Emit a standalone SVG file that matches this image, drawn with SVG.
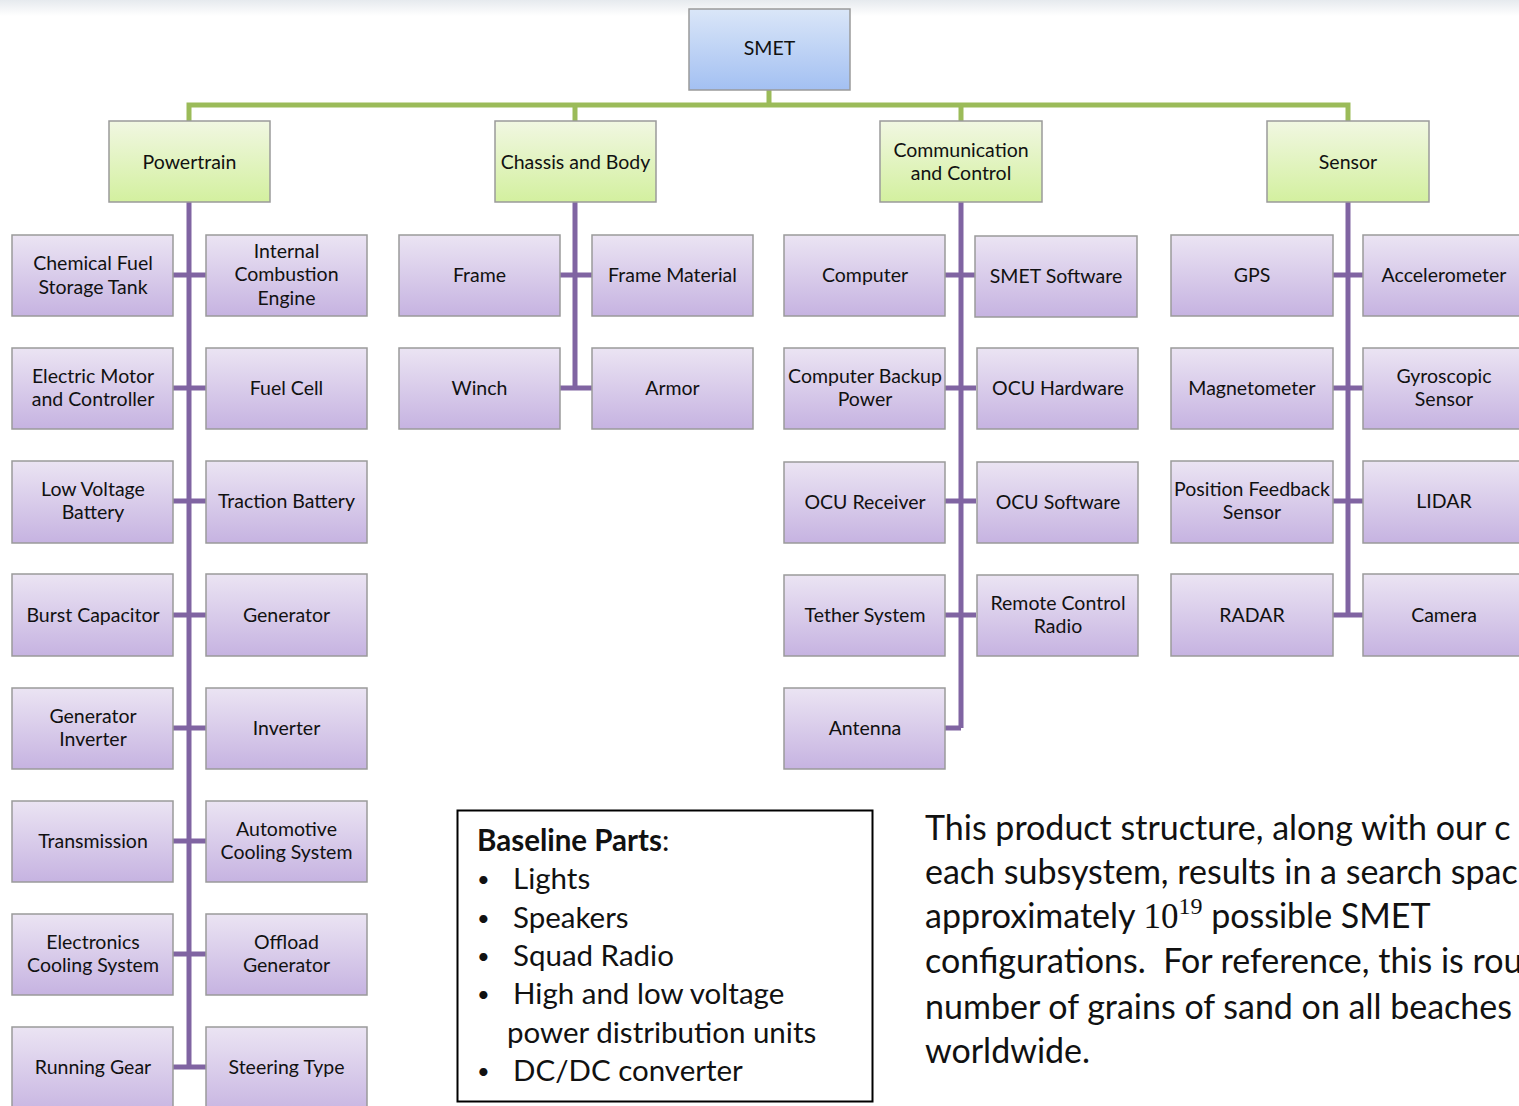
<svg xmlns="http://www.w3.org/2000/svg" width="1519" height="1106" viewBox="0 0 1519 1106">
<defs>
<linearGradient id="gBlue" x1="0" y1="0" x2="0" y2="1"><stop offset="0" stop-color="#dae6f8"/><stop offset="1" stop-color="#a3c0f2"/></linearGradient>
<linearGradient id="gGreen" x1="0" y1="0" x2="0" y2="1"><stop offset="0" stop-color="#f1f7e2"/><stop offset="1" stop-color="#d3f09f"/></linearGradient>
<linearGradient id="gPurple" x1="0" y1="0" x2="0" y2="1"><stop offset="0" stop-color="#ebe4f3"/><stop offset="1" stop-color="#c6b3e1"/></linearGradient>
<linearGradient id="gTop" x1="0" y1="0" x2="0" y2="1"><stop offset="0" stop-color="#e6eaee"/><stop offset="1" stop-color="#ffffff"/></linearGradient>
<style>
.b{stroke:#9a9a9a;stroke-width:1.5}
.blue{fill:url(#gBlue)}
.green{fill:url(#gGreen)}
.pur{fill:url(#gPurple)}
text{font-family:Lato,"Open Sans","Liberation Sans",sans-serif;fill:#111}
.t{font-size:19.5px;text-anchor:middle}
.gl{fill:none;stroke:#9bbb59;stroke-width:5}
.pl{fill:none;stroke:#8064a2;stroke-width:5}
.big{font-size:29.5px}
.bul{font-size:22px}
.par{font-size:34px}
</style>
</defs>
<rect x="0" y="0" width="1519" height="1106" fill="#ffffff"/>
<rect x="0" y="0" width="1519" height="16" fill="url(#gTop)"/>

<g id="connectors">
<path class="gl" d="M769 90V105M189 121V105H1348V121M575 105V121M961 105V121"/>
<path class="pl" d="M189 202V1067M173 275H206M173 388H206M173 501H206M173 615H206M173 728H206M173 841H206M173 954H206M173 1067H206"/>
<path class="pl" d="M575 202V388M560 275H592M560 388H592"/>
<path class="pl" d="M961 202V728M945 275H976M945 388H976M945 501H976M945 615H976M945 728H961"/>
<path class="pl" d="M1348 202V615M1333 275H1363M1333 388H1363M1333 501H1363M1333 615H1363"/>
</g>

<g id="smet"><rect class="b blue" x="689" y="9" width="161" height="81"/><text class="t" x="769.5" y="55">SMET</text></g>

<g id="powertrain"><rect class="b green" x="109" y="121" width="161" height="81"/><text class="t" x="189.5" y="169">Powertrain</text></g>
<g id="chassis"><rect class="b green" x="495" y="121" width="161" height="81"/><text class="t" x="575.5" y="169">Chassis and Body</text></g>
<g id="comm"><rect class="b green" x="880" y="121" width="162" height="81"/><text class="t" x="961" y="157">Communication</text><text class="t" x="961" y="180">and Control</text></g>
<g id="sensor"><rect class="b green" x="1267" y="121" width="162" height="81"/><text class="t" x="1348" y="169">Sensor</text></g>

<!-- Powertrain children -->
<g id="chem"><rect class="b pur" x="12" y="235" width="161" height="81"/><text class="t" x="93" y="270">Chemical Fuel</text><text class="t" x="93" y="294">Storage Tank</text></g>
<g id="ice"><rect class="b pur" x="206" y="235" width="161" height="81"/><text class="t" x="286.5" y="258">Internal</text><text class="t" x="286.5" y="281">Combustion</text><text class="t" x="286.5" y="305">Engine</text></g>
<g id="emotor"><rect class="b pur" x="12" y="348" width="161" height="81"/><text class="t" x="93" y="383">Electric Motor</text><text class="t" x="93" y="406">and Controller</text></g>
<g id="fuelcell"><rect class="b pur" x="206" y="348" width="161" height="81"/><text class="t" x="286.5" y="395">Fuel Cell</text></g>
<g id="lvbat"><rect class="b pur" x="12" y="461" width="161" height="82"/><text class="t" x="93" y="496">Low Voltage</text><text class="t" x="93" y="519">Battery</text></g>
<g id="tracbat"><rect class="b pur" x="206" y="461" width="161" height="82"/><text class="t" x="286.5" y="508">Traction Battery</text></g>
<g id="burst"><rect class="b pur" x="12" y="574" width="161" height="82"/><text class="t" x="93" y="622">Burst Capacitor</text></g>
<g id="gen"><rect class="b pur" x="206" y="574" width="161" height="82"/><text class="t" x="286.5" y="622">Generator</text></g>
<g id="geninv"><rect class="b pur" x="12" y="688" width="161" height="81"/><text class="t" x="93" y="723">Generator</text><text class="t" x="93" y="746">Inverter</text></g>
<g id="inv"><rect class="b pur" x="206" y="688" width="161" height="81"/><text class="t" x="286.5" y="735">Inverter</text></g>
<g id="trans"><rect class="b pur" x="12" y="801" width="161" height="81"/><text class="t" x="93" y="848">Transmission</text></g>
<g id="autocool"><rect class="b pur" x="206" y="801" width="161" height="81"/><text class="t" x="286.5" y="836">Automotive</text><text class="t" x="286.5" y="859">Cooling System</text></g>
<g id="eleccool"><rect class="b pur" x="12" y="914" width="161" height="81"/><text class="t" x="93" y="949">Electronics</text><text class="t" x="93" y="972">Cooling System</text></g>
<g id="offload"><rect class="b pur" x="206" y="914" width="161" height="81"/><text class="t" x="286.5" y="949">Offload</text><text class="t" x="286.5" y="972">Generator</text></g>
<g id="running"><rect class="b pur" x="12" y="1027" width="161" height="90"/><text class="t" x="93" y="1074">Running Gear</text></g>
<g id="steering"><rect class="b pur" x="206" y="1027" width="161" height="90"/><text class="t" x="286.5" y="1074">Steering Type</text></g>

<!-- Chassis children -->
<g id="frame"><rect class="b pur" x="399" y="235" width="161" height="81"/><text class="t" x="479.5" y="282">Frame</text></g>
<g id="framemat"><rect class="b pur" x="592" y="235" width="161" height="81"/><text class="t" x="672.5" y="282">Frame Material</text></g>
<g id="winch"><rect class="b pur" x="399" y="348" width="161" height="81"/><text class="t" x="479.5" y="395">Winch</text></g>
<g id="armor"><rect class="b pur" x="592" y="348" width="161" height="81"/><text class="t" x="672.5" y="395">Armor</text></g>

<!-- Comm children -->
<g id="computer"><rect class="b pur" x="784" y="235" width="161" height="81"/><text class="t" x="865" y="282">Computer</text></g>
<g id="smetsw"><rect class="b pur" x="975" y="236" width="162" height="81"/><text class="t" x="1056" y="283">SMET Software</text></g>
<g id="compbackup"><rect class="b pur" x="784" y="348" width="161" height="81"/><text class="t" x="865" y="383">Computer Backup</text><text class="t" x="865" y="406">Power</text></g>
<g id="ocuhw"><rect class="b pur" x="977" y="348" width="161" height="81"/><text class="t" x="1058" y="395">OCU Hardware</text></g>
<g id="ocurx"><rect class="b pur" x="784" y="462" width="161" height="81"/><text class="t" x="865" y="509">OCU Receiver</text></g>
<g id="ocusw"><rect class="b pur" x="977" y="462" width="161" height="81"/><text class="t" x="1058" y="509">OCU Software</text></g>
<g id="tether"><rect class="b pur" x="784" y="575" width="161" height="81"/><text class="t" x="865" y="622">Tether System</text></g>
<g id="rcradio"><rect class="b pur" x="977" y="575" width="161" height="81"/><text class="t" x="1058" y="610">Remote Control</text><text class="t" x="1058" y="633">Radio</text></g>
<g id="antenna"><rect class="b pur" x="784" y="688" width="161" height="81"/><text class="t" x="865" y="735">Antenna</text></g>

<!-- Sensor children -->
<g id="gps"><rect class="b pur" x="1171" y="235" width="162" height="81"/><text class="t" x="1252" y="282">GPS</text></g>
<g id="accel"><rect class="b pur" x="1363" y="235" width="162" height="81"/><text class="t" x="1444" y="282">Accelerometer</text></g>
<g id="magneto"><rect class="b pur" x="1171" y="348" width="162" height="81"/><text class="t" x="1252" y="395">Magnetometer</text></g>
<g id="gyro"><rect class="b pur" x="1363" y="348" width="162" height="81"/><text class="t" x="1444" y="383">Gyroscopic</text><text class="t" x="1444" y="406">Sensor</text></g>
<g id="posfb"><rect class="b pur" x="1171" y="461" width="162" height="82"/><text class="t" x="1252" y="496">Position Feedback</text><text class="t" x="1252" y="519">Sensor</text></g>
<g id="lidar"><rect class="b pur" x="1363" y="461" width="162" height="82"/><text class="t" x="1444" y="508">LIDAR</text></g>
<g id="radar"><rect class="b pur" x="1171" y="574" width="162" height="82"/><text class="t" x="1252" y="622">RADAR</text></g>
<g id="camera"><rect class="b pur" x="1363" y="574" width="162" height="82"/><text class="t" x="1444" y="622">Camera</text></g>

<!-- Baseline parts box -->
<g id="baseline">
<rect x="457.5" y="810.5" width="415" height="291" fill="#ffffff" stroke="#000000" stroke-width="2"/>
<text class="big" x="477" y="851"><tspan font-weight="bold">Baseline Parts</tspan>:</text>
<text class="bul" x="477" y="887">•</text><text class="big" x="513" y="889">Lights</text>
<text class="bul" x="477" y="926">•</text><text class="big" x="513" y="928">Speakers</text>
<text class="bul" x="477" y="964">•</text><text class="big" x="513" y="966">Squad Radio</text>
<text class="bul" x="477" y="1002">•</text><text class="big" x="513" y="1004">High and low voltage</text>
<text class="big" x="507" y="1043">power distribution units</text>
<text class="bul" x="477" y="1079">•</text><text class="big" x="513" y="1081">DC/DC converter</text>
</g>

<g id="paragraph">
<text class="par" x="925" y="840">This product structure, along with our c</text>
<text class="par" x="925" y="884">each subsystem, results in a search spac</text>
<text class="par" x="925" y="928">approximately <tspan font-family="Liberation Serif, serif" font-size="35">10</tspan><tspan font-family="Liberation Serif, serif" font-size="24" dy="-14">19</tspan><tspan dy="14"> possible SMET</tspan></text>
<text class="par" x="925" y="973">configurations.&#160; For reference, this is rou</text>
<text class="par" x="925" y="1019">number of grains of sand on all beaches</text>
<text class="par" x="925" y="1063">worldwide.</text>
</g>
</svg>
